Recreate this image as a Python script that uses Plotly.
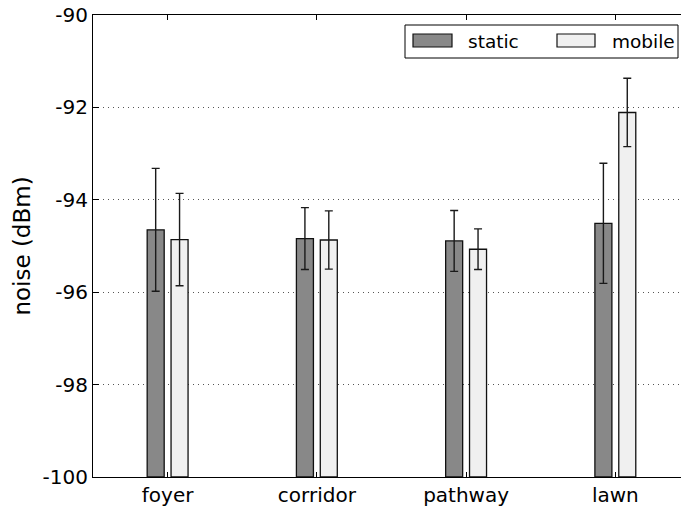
import plotly.graph_objects as go

categories = ["foyer", "corridor", "pathway", "lawn"]
static_mean = [-94.65, -94.84, -94.89, -94.51]
static_err = [1.33, 0.67, 0.66, 1.30]
mobile_mean = [-94.86, -94.87, -95.07, -92.11]
mobile_err = [1.00, 0.63, 0.44, 0.74]
y_tick_vals = [-100, -98, -96, -94, -92, -90]
y_tick_text = ["-100", "-98", "-96", "-94", "-92", "-90"]
series_names = ["static", "mobile"]

BASE = -100
BAR_W = 0.114
STATIC_OFF = -0.137
MOBILE_OFF = 0.023
STATIC_FILL = "#888888"
MOBILE_FILL = "#f0f0f0"
FONT = "DejaVu Sans"

xs = list(range(len(categories)))

fig = go.Figure()
fig.add_trace(go.Bar(
    x=xs, y=[v - BASE for v in static_mean], base=BASE,
    width=BAR_W, offset=STATIC_OFF,
    marker=dict(color=STATIC_FILL, line=dict(color="#111111", width=1.3)),
    name=series_names[0], showlegend=False, hoverinfo="skip"))
fig.add_trace(go.Bar(
    x=xs, y=[v - BASE for v in mobile_mean], base=BASE,
    width=BAR_W, offset=MOBILE_OFF,
    marker=dict(color=MOBILE_FILL, line=dict(color="#111111", width=1.3)),
    name=series_names[1], showlegend=False, hoverinfo="skip"))

for means, errs, off in [(static_mean, static_err, STATIC_OFF),
                         (mobile_mean, mobile_err, MOBILE_OFF)]:
    fig.add_trace(go.Scatter(
        x=[i + off + BAR_W / 2 for i in xs], y=means, mode="markers",
        marker=dict(size=1, color="rgba(0,0,0,0)"),
        error_y=dict(type="data", array=errs, visible=True,
                     color="#1a1a1a", thickness=1.4, width=4),
        showlegend=False, hoverinfo="skip"))

# manual legend (matplotlib style)
W, H = 681, 506
ml, mt, mb = 93, 15, 29
pw, ph = W - ml, H - mt - mb

def px_x(x):
    return (x - ml) / pw

def px_y(y):
    return 1 - (y - mt) / ph

shapes = [
    dict(type="rect", xref="paper", yref="paper",
         x0=px_x(405), x1=px_x(678), y0=px_y(25), y1=px_y(58),
         line=dict(color="#000000", width=1), fillcolor="white", layer="above"),
    dict(type="rect", xref="paper", yref="paper",
         x0=px_x(413), x1=px_x(452), y0=px_y(34), y1=px_y(47),
         line=dict(color="#111111", width=1.2), fillcolor=STATIC_FILL, layer="above"),
    dict(type="rect", xref="paper", yref="paper",
         x0=px_x(557), x1=px_x(595), y0=px_y(34), y1=px_y(47),
         line=dict(color="#111111", width=1.2), fillcolor=MOBILE_FILL, layer="above"),
]
annotations = [
    dict(xref="paper", yref="paper", x=px_x(466), y=px_y(41.5), text=series_names[0],
         showarrow=False, xanchor="left", yanchor="middle",
         font=dict(family=FONT, size=18.5, color="#000")),
    dict(xref="paper", yref="paper", x=px_x(610), y=px_y(41.5), text=series_names[1],
         showarrow=False, xanchor="left", yanchor="middle",
         font=dict(family=FONT, size=18.5, color="#000")),
]

fig.update_layout(
    width=W, height=H,
    margin=dict(l=ml, r=0, t=mt, b=mb),
    paper_bgcolor="white", plot_bgcolor="white",
    barmode="overlay",
    font=dict(family=FONT, size=20, color="#000"),
    shapes=shapes, annotations=annotations,
    showlegend=False,
)
fig.update_xaxes(
    range=[-0.5, 3.44], tickvals=xs, ticktext=categories,
    showline=True, linecolor="#000", linewidth=1, mirror="ticks",
    ticks="inside", ticklen=5, tickcolor="#000", showgrid=False, zeroline=False,
    tickfont=dict(family=FONT, size=20))
fig.update_yaxes(
    range=[-100, -90], tickvals=y_tick_vals, ticktext=y_tick_text,
    showline=True, linecolor="#000", linewidth=1,
    ticks="inside", ticklen=6, tickcolor="#000",
    showgrid=True, gridcolor="#555555", gridwidth=1, griddash="1px,4px",
    zeroline=False, tickfont=dict(family=FONT, size=20),
    title=dict(text="noise (dBm)", font=dict(family=FONT, size=23), standoff=5))

fig.write_html("out.html")
